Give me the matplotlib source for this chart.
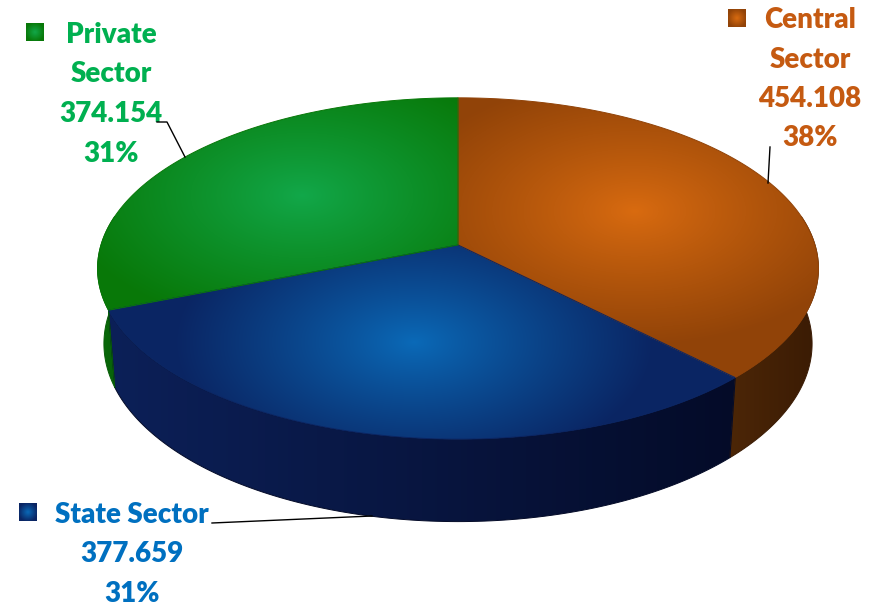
import matplotlib.pyplot as plt
from matplotlib.patches import Polygon
import numpy as np

# data
labels = ['Central Sector', 'State Sector', 'Private Sector']
label_lines = [['Central', 'Sector'], ['State Sector'], ['Private', 'Sector']]
values = [454.108, 377.659, 374.154]

# colours (top face: bright centre / dark rim, side: left / right)
top_bright = ['#d96b10', '#0b6ab8', '#12a84a']
top_dark = ['#914308', '#0a2563', '#087808']
side_left = ['#4c2607', '#0c2058', '#0a6e0a']
side_right = ['#3a1b04', '#040b28', '#075d07']
text_colors = ['#c55a11', '#0070c0', '#00b050']

W, H = 879, 606
# 3d pie geometry in pixel space
CX, CY = 458, 245
R, DEPTH = 357, 86
SE = 0.469
CE = np.sqrt(1 - SE ** 2)
F = 2290


def proj(theta, z, r=R):
    th = np.radians(theta)
    x3, y3 = r * np.cos(th), r * np.sin(th)
    yup = y3 * SE + z * CE
    d = y3 * CE - z * SE
    s = F / (F + d)
    return CX + x3 * s, CY - yup * s


def mix(c1, c2, t):
    a = np.array(plt.matplotlib.colors.to_rgb(c1))
    b = np.array(plt.matplotlib.colors.to_rgb(c2))
    t = np.clip(t, 0, 1)[..., None]
    return a * (1 - t) + b * t


def clipped_image(ax, rgb, pts, edge, z):
    img = ax.imshow(rgb, extent=(0, W, H, 0), interpolation='bilinear',
                    aspect='auto', zorder=z)
    patch = Polygon(pts, closed=True, facecolor='none', edgecolor=edge,
                    linewidth=0.7, zorder=z + 0.5)
    ax.add_patch(patch)
    img.set_clip_path(patch)


fig = plt.figure(figsize=(W / 100, H / 100), dpi=100)
ax = fig.add_axes([0, 0, 1, 1])
yy, xx = np.mgrid[0:H, 0:W] + 0.5

total = sum(values)
fracs = [v / total for v in values]
starts, ends = [], []
a = 90.0
for f in fracs:
    starts.append(a - 360 * f)
    ends.append(a)
    a -= 360 * f

# side walls (front part only)
for i in range(len(values)):
    lo, hi = max(starts[i], -190), min(ends[i], 10)
    if lo >= hi:
        continue
    th = np.linspace(lo, hi, 120)
    xt, yt = proj(th, 0)
    xb, yb = proj(th[::-1], -DEPTH)
    pts = np.column_stack([np.r_[xt, xb], np.r_[yt, yb]])
    x0, x1 = pts[:, 0].min(), pts[:, 0].max()
    rgb = mix(side_left[i], side_right[i], (xx - x0) / max(x1 - x0, 1))
    clipped_image(ax, rgb, pts, side_right[i], 2)

# top faces with radial gradient
for i in range(len(values)):
    th = np.linspace(starts[i], ends[i], 200)
    xt, yt = proj(th, 0)
    cx0, cy0 = proj(0, 0, 0)
    pts = np.column_stack([np.r_[cx0, xt], np.r_[cy0, yt]])
    gx, gy = proj((starts[i] + ends[i]) / 2, 0, 0.55 * R)
    t = np.sqrt(((xx - gx) / 240) ** 2 + ((yy - gy) / 135) ** 2)
    rgb = mix(top_bright[i], top_dark[i], t ** 0.9)
    clipped_image(ax, rgb, pts, top_dark[i], 4)

# labels
font = dict(family='Lato', fontweight='heavy', fontsize=20)
label_pos = [(810, 28), (132, 523), (111, 43)]
square_pos = [(737, 18), (28, 512), (35, 32)]
line_gap = 39.5
for i in range(len(values)):
    lines = label_lines[i] + ['%.3f' % values[i], '%.0f%%' % (fracs[i] * 100)]
    x0, y0 = label_pos[i]
    for k, s in enumerate(lines):
        ax.text(x0, y0 + k * line_gap, s, ha='center', va='baseline',
                color=text_colors[i], **font)
    sx, sy = square_pos[i]
    gy2, gx2 = np.mgrid[-1:1:24j, -1:1:24j]
    sq = mix(top_bright[i], top_dark[i], np.sqrt(gx2 ** 2 + gy2 ** 2) * 0.9)
    ax.imshow(sq, extent=(sx - 9, sx + 9, sy + 9, sy - 9), interpolation='bilinear',
              aspect='auto', zorder=6)

# leader lines
ax.plot([770, 768], [147, 183], color='black', lw=1, zorder=7)
ax.plot([212, 372], [523, 516], color='black', lw=1, zorder=7)
ax.plot([157, 167, 185], [122, 122, 157], color='black', lw=1, zorder=7)

ax.set_xlim(0, W)
ax.set_ylim(H, 0)
ax.axis('off')
fig.savefig('out.png', dpi=100)
